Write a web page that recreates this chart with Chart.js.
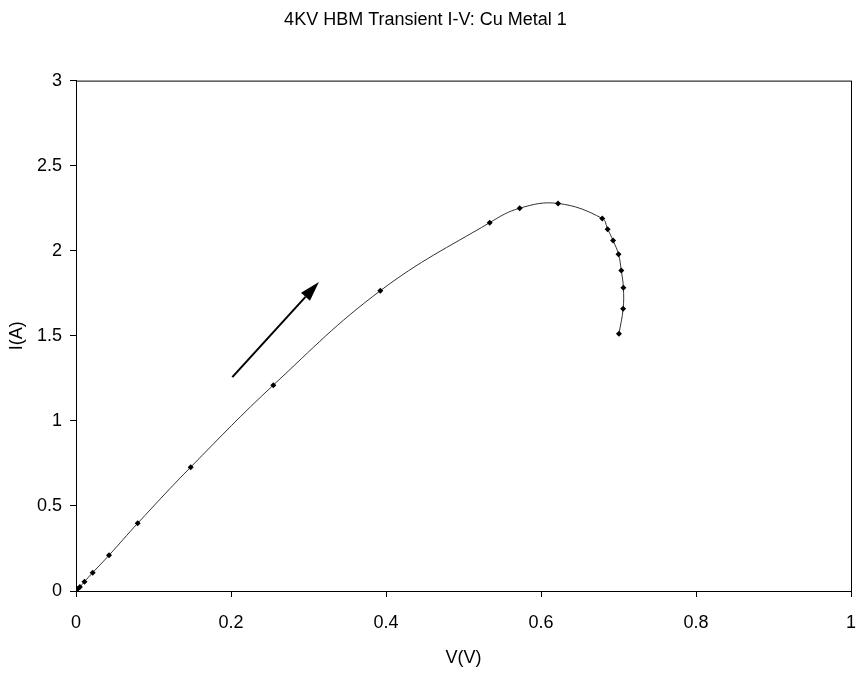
<!DOCTYPE html>
<html>
<head>
<meta charset="utf-8">
<script src="https://cdn.jsdelivr.net/npm/chart.js@4.4.0/dist/chart.umd.min.js"></script>
<style>
  html, body { margin: 0; padding: 0; background: #fff; }
  #wrap { width: 857px; height: 677px; }
</style>
</head>
<body>
<div id="wrap"><canvas id="ivChart"></canvas></div>
<script>
// voltage (V) and current (A)
const voltage = [0, 0.002, 0.005, 0.011, 0.0215, 0.0426, 0.0796, 0.148, 0.2546, 0.3927, 0.5338, 0.5725, 0.622, 0.679, 0.686, 0.693, 0.700, 0.7036, 0.7063, 0.706, 0.7006];
const current = [0, 0.012, 0.024, 0.055, 0.108, 0.21, 0.398, 0.728, 1.21, 1.765, 2.165, 2.25, 2.278, 2.19, 2.127, 2.06, 1.98, 1.884, 1.782, 1.659, 1.512];

// direction arrow, in data units (tail, tip)
const arrowTail = [0.2017, 1.257];
const arrowTip = [0.3135, 1.816];

const points = voltage.map((v, i) => ({ x: v, y: current[i] }));

const fontFamily = '"Liberation Sans", Arial, sans-serif';

// box around the plot area + the arrow annotation
const framePlugin = {
    id: 'frame',
    afterDraw(chart) {
        const { ctx, chartArea: a, scales } = chart;
        ctx.save();
        ctx.strokeStyle = '#000';
        ctx.lineWidth = 1;
        ctx.strokeRect(a.left + 0.5, a.top + 0.5, a.right - a.left, a.bottom - a.top);

        const x1 = scales.x.getPixelForValue(arrowTail[0]);
        const y1 = scales.y.getPixelForValue(arrowTail[1]);
        const x2 = scales.x.getPixelForValue(arrowTip[0]);
        const y2 = scales.y.getPixelForValue(arrowTip[1]);
        const ang = Math.atan2(y2 - y1, x2 - x1);
        const headLen = 20, headHalf = 6;
        const bx = x2 - headLen * Math.cos(ang);
        const by = y2 - headLen * Math.sin(ang);
        ctx.lineWidth = 2;
        ctx.beginPath();
        ctx.moveTo(x1, y1);
        ctx.lineTo(bx, by);
        ctx.stroke();
        ctx.fillStyle = '#000';
        ctx.beginPath();
        ctx.moveTo(x2, y2);
        ctx.lineTo(bx + headHalf * Math.sin(ang), by - headHalf * Math.cos(ang));
        ctx.lineTo(bx - headHalf * Math.sin(ang), by + headHalf * Math.cos(ang));
        ctx.closePath();
        ctx.fill();
        ctx.restore();
    }
};

const ctx = document.getElementById('ivChart').getContext('2d');
new Chart(ctx, {
    type: 'scatter',
    data: {
        datasets: [{
            label: 'Cu Metal 1',
            data: points,
            showLine: true,
            borderColor: '#333',
            borderWidth: 1,
            tension: 0.4,
            pointStyle: 'rectRot',
            pointRadius: 3,
            pointBackgroundColor: '#000',
            pointBorderColor: '#000',
            pointBorderWidth: 0
        }]
    },
    options: {
        responsive: true,
        maintainAspectRatio: false,
        animation: false,
        layout: { padding: { left: 0, right: 6, top: 0, bottom: 0 } },
        scales: {
            x: {
                type: 'linear',
                min: 0,
                max: 1,
                ticks: {
                    stepSize: 0.2,
                    color: '#000',
                    padding: 15,
                    maxRotation: 0,
                    font: { family: fontFamily, size: 18 },
                    callback: v => String(+v.toFixed(2))
                },
                grid: { display: true, drawOnChartArea: false, drawTicks: true, tickLength: 6, color: '#000' },
                border: { display: true, color: '#000' },
                title: {
                    display: true,
                    text: 'V(V)',
                    color: '#000',
                    font: { family: fontFamily, size: 18 },
                    padding: { top: 0, bottom: 8 }
                },
                afterFit(scale) {
                    scale.height = 86;
                    scale.paddingRight = 0;
                    scale.paddingLeft = 0;
                }
            },
            y: {
                type: 'linear',
                min: 0,
                max: 3,
                ticks: {
                    stepSize: 0.5,
                    color: '#000',
                    padding: 8,
                    font: { family: fontFamily, size: 18 },
                    callback: v => String(+v.toFixed(2))
                },
                grid: { display: true, drawOnChartArea: false, drawTicks: true, tickLength: 6, color: '#000' },
                border: { display: true, color: '#000' },
                title: {
                    display: true,
                    text: 'I(A)',
                    color: '#000',
                    font: { family: fontFamily, size: 18 },
                    padding: { top: 6, bottom: 0 }
                },
                afterFit(scale) { scale.width = 76; }
            }
        },
        plugins: {
            legend: { display: false },
            tooltip: { enabled: false },
            title: {
                display: true,
                text: '4KV HBM Transient I-V: Cu Metal 1',
                color: '#000',
                font: { family: fontFamily, size: 18, weight: 'normal' },
                padding: { top: 9, bottom: 50 }
            }
        }
    },
    plugins: [framePlugin]
});
</script>
</body>
</html>
